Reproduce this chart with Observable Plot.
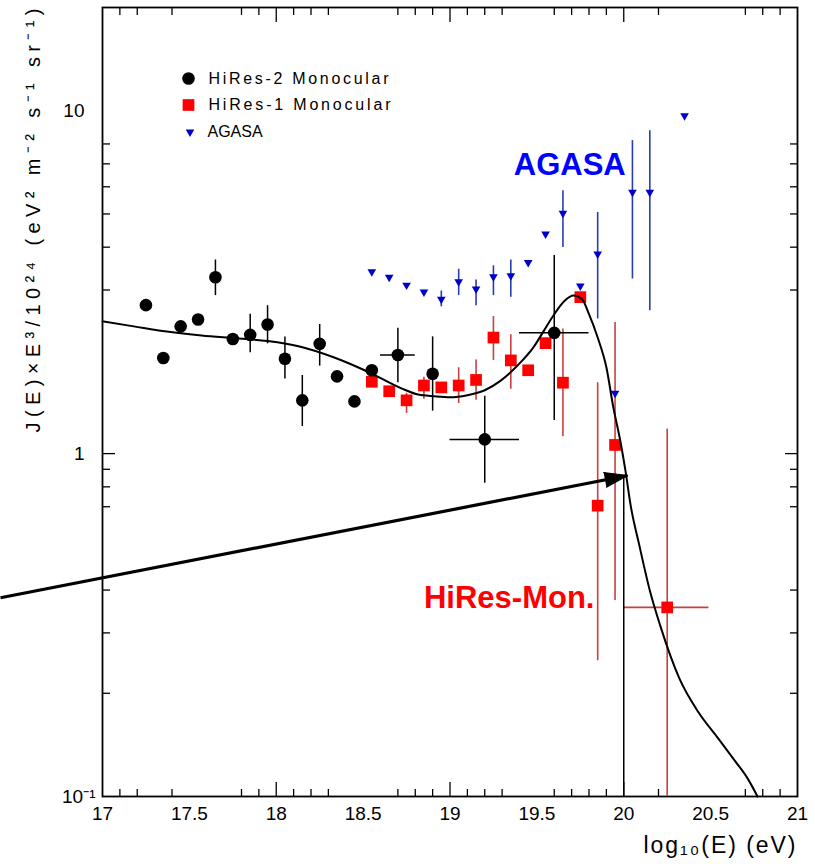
<!DOCTYPE html>
<html><head><meta charset="utf-8">
<script src="https://cdn.jsdelivr.net/npm/d3@7"></script>
<script src="https://cdn.jsdelivr.net/npm/@observablehq/plot@0.6"></script>
<style>body{margin:0;background:#fff} svg{display:block}</style>
</head><body><div id="chart"></div>
<script>
// ---- HiRes-2 Monocular (black circles)
const hires2X  = [17.25,17.35,17.45,17.55,17.65,17.75,17.85,17.95,18.05,18.15,18.25,18.35,18.45,18.55,18.70,18.90,19.20,19.60];
const hires2Y  = [2.71,1.90,2.35,2.46,3.27,2.16,2.22,2.38,1.89,1.43,2.09,1.68,1.42,1.75,1.94,1.71,1.10,2.25];
const hires2Lo = [null,null,null,null,2.89,null,1.97,2.09,1.65,1.20,1.80,null,null,null,1.61,1.33,0.82,1.25];
const hires2Hi = [null,null,null,null,3.67,null,2.55,2.70,2.19,1.69,2.38,null,null,null,2.32,2.19,1.47,3.78];
const hires2XLo = [null,null,null,null,null,null,null,null,null,null,null,null,null,null,18.60,null,19.00,19.40];
const hires2XHi = [null,null,null,null,null,null,null,null,null,null,null,null,null,null,18.80,null,19.40,19.80];

// ---- HiRes-1 Monocular (red squares)
const hires1X  = [18.55,18.65,18.75,18.85,18.95,19.05,19.15,19.25,19.35,19.45,19.55,19.65,19.75,19.85,19.95,20.25];
const hires1Y  = [1.62,1.52,1.43,1.58,1.56,1.58,1.64,2.18,1.87,1.75,2.10,1.61,2.86,0.705,1.06,0.356];
const hires1Lo = [null,null,1.31,1.44,null,1.40,1.43,1.87,1.54,null,null,1.12,null,0.249,0.373,0.1];
const hires1Hi = [null,null,1.50,1.67,null,1.78,1.875,2.51,2.22,null,null,2.31,null,1.61,2.41,1.18];
const hires1XLo = [null,null,null,null,null,null,null,null,null,null,null,null,null,null,null,20.00];
const hires1XHi = [null,null,null,null,null,null,null,null,null,null,null,null,null,null,null,20.49];

// ---- AGASA (blue inverted triangles)
const agasaX  = [18.55,18.65,18.75,18.85,18.95,19.05,19.15,19.25,19.35,19.45,19.55,19.65,19.75,19.85,19.95,20.05,20.15,20.35];
const agasaY  = [3.39,3.27,3.10,2.96,2.82,3.17,3.02,3.28,3.30,3.61,4.37,5.02,3.08,3.82,1.50,5.78,5.78,9.67];
const agasaLo = [null,null,null,null,2.68,2.89,2.70,2.89,2.86,null,null,3.99,null,2.47,null,3.23,2.61,null];
const agasaHi = [null,null,null,null,2.98,3.45,3.21,3.53,3.67,null,null,5.84,null,5.05,null,8.18,8.74,null];

// ---- fit curve
const fitX = [17.00,17.18,17.37,17.57,17.76,17.95,18.14,18.33,18.53,18.72,18.81,18.91,19.00,19.10,19.20,19.29,19.39,19.48,19.54,19.60,19.66,19.71,19.76,19.80,19.85,19.90,19.94,19.98,20.01,20.04,20.09,20.15,20.21,20.32,20.43,20.54,20.64,20.71,20.77];
const fitY = [2.43,2.35,2.27,2.21,2.17,2.13,2.05,1.91,1.73,1.55,1.49,1.47,1.46,1.48,1.53,1.63,1.81,2.04,2.28,2.55,2.79,2.89,2.82,2.55,2.18,1.785,1.365,1.09,0.89,0.705,0.539,0.399,0.315,0.221,0.176,0.1485,0.127,0.1135,0.100];

// ---- annotations
const arrowX = [16.413, 20.022];
const arrowY = [0.380, 0.863];
const cutLineX = [20];
const cutLineTop = [0.863];
const annoText = ["AGASA", "HiRes-Mon."];
const annoX = [19.367, 18.85];
const annoY = [6.94, 0.378];
const annoColor = ["#0000ff", "#ff0000"];

// ---- axes / text
const xLabelTicks = [17,17.5,18,18.5,19,19.5,20,20.5,21];
const xMajorTicks = [18,19,20];
const xMinorTicks = [17.1,17.2,17.4,17.8,17.9,18.1,18.2,18.3,18.7,18.8,18.9,19.1,19.2,19.3,19.6,19.7,19.8,19.9,20.2,20.7,20.8,20.9];
const yMajorTicks = [1];
const yMinorTicks = [0.2,0.3,0.4,0.7,0.8,0.9,3,4,5,6,7,8];
const yLabelTicks = [1,10];
const yLabelTexts = {1:"1", 10:"10"};
const yBottomLabel = "10⁻¹";
const legendLabels = ["HiRes-2 Monocular","HiRes-1 Monocular","AGASA"];
const xTitle = "log₁₀(E) (eV)";
const yTitle = "J(E)×E³/10²⁴ (eV² m⁻² s⁻¹ sr⁻¹)";

const FONT = "'Liberation Sans', Arial, Helvetica, sans-serif";
const W = 815, H = 864, ML = 102, MR = 18, MT = 7, MB = 68;

function rows(xs, ys, lo, hi, xlo, xhi) {
  return xs.map((x, i) => ({x, y: ys[i], lo: lo ? lo[i] : null, hi: hi ? hi[i] : null,
    xlo: xlo ? xlo[i] : null, xhi: xhi ? xhi[i] : null}));
}
const h2 = rows(hires2X, hires2Y, hires2Lo, hires2Hi, hires2XLo, hires2XHi);
const h1 = rows(hires1X, hires1Y, hires1Lo, hires1Hi, hires1XLo, hires1XHi);
const ag = rows(agasaX, agasaY, agasaLo, agasaHi);
const fit = fitX.map((x, i) => ({x, y: fitY[i]}));
const annos = annoText.map((t, i) => ({t, x: annoX[i], y: annoY[i], c: annoColor[i]}));

// arrow direction (screen space) from same scale definition
const sx = d3.scaleLinear([17, 21], [ML, W - MR]);
const sy = d3.scaleLog([0.1, 20], [H - MB, MT]);
const ang = Math.atan2(sx(arrowX[1]) - sx(arrowX[0]), -(sy(arrowY[1]) - sy(arrowY[0]))) * 180 / Math.PI;

const vbar = (data, color, w) => Plot.ruleX(data.filter(d => d.lo != null), {x: "x", y1: "lo", y2: "hi", stroke: color, strokeWidth: w});
const hbar = (data, color, w) => Plot.ruleY(data.filter(d => d.xlo != null), {y: "y", x1: "xlo", x2: "xhi", stroke: color, strokeWidth: w});

const plot = Plot.plot({
  width: W, height: H,
  marginLeft: ML, marginRight: MR, marginTop: MT, marginBottom: MB,
  x: {domain: [17, 21], axis: null},
  y: {type: "log", domain: [0.1, 20], axis: null},
  style: {fontFamily: FONT, background: "#fff", color: "#000"},
  marks: [
    // ticks (inward) on four sides
    Plot.axisX({anchor: "bottom", ticks: xMajorTicks, tickSize: -14, tickFormat: () => "", label: null, strokeWidth: 1.3}),
    Plot.axisX({anchor: "bottom", ticks: xMinorTicks, tickSize: -7, tickFormat: () => "", label: null, strokeWidth: 1.3}),
    Plot.axisX({anchor: "top", ticks: xMajorTicks, tickSize: -14, tickFormat: () => "", label: null, strokeWidth: 1.3}),
    Plot.axisX({anchor: "top", ticks: xMinorTicks, tickSize: -7, tickFormat: () => "", label: null, strokeWidth: 1.3}),
    Plot.axisY({anchor: "left", ticks: yMajorTicks, tickSize: -13, tickFormat: () => "", label: null, strokeWidth: 1.3}),
    Plot.axisY({anchor: "left", ticks: yMinorTicks, tickSize: -8, tickFormat: () => "", label: null, strokeWidth: 1.3}),
    Plot.axisY({anchor: "right", ticks: yMajorTicks, tickSize: -13, tickFormat: () => "", label: null, strokeWidth: 1.3}),
    Plot.axisY({anchor: "right", ticks: yMinorTicks, tickSize: -8, tickFormat: () => "", label: null, strokeWidth: 1.3}),
    // tick labels
    Plot.axisX({anchor: "bottom", ticks: xLabelTicks, tickSize: 0, tickPadding: 10, fontSize: 19, label: null, tickFormat: d => String(d)}),
    Plot.axisY({anchor: "left", ticks: yLabelTicks, tickSize: 0, tickPadding: 18, fontSize: 19, label: null, tickFormat: d => yLabelTexts[d]}),
    Plot.axisY({anchor: "left", ticks: [0.1], tickSize: 0, tickPadding: 7, fontSize: 19, label: null, tickFormat: () => yBottomLabel}),
    Plot.frame({stroke: "#000", strokeWidth: 1.8}),

    // HiRes-1
    vbar(h1, "#c84040", 1.6), hbar(h1, "#c84040", 1.6),
    Plot.dot(h1, {x: "x", y: "y", symbol: "square", r: 6.6, fill: "#ff0000"}),
    // AGASA
    vbar(ag, "#2a3cb0", 1.6),
    Plot.dot(ag, {x: "x", y: "y", symbol: "triangle", r: 3.2, rotate: 180, fill: "#0000cc"}),
    // HiRes-2
    vbar(h2, "#000", 1.5), hbar(h2, "#000", 1.5),
    Plot.dot(h2, {x: "x", y: "y", symbol: "circle", r: 6.3, fill: "#000"}),

    // fit curve
    Plot.line(fit, {x: "x", y: "y", curve: "monotone-x", stroke: "#000", strokeWidth: 2}),

    // E = 10^20 marker line
    Plot.ruleX(cutLineX.map((x, i) => ({x, top: cutLineTop[i]})), {x: "x", y1: 0.1, y2: "top", stroke: "#000", strokeWidth: 1.5}),

    // arrow
    Plot.link([{x1: arrowX[0], y1: arrowY[0], x2: arrowX[1], y2: arrowY[1]}], {x1: "x1", y1: "y1", x2: "x2", y2: "y2", stroke: "#000", strokeWidth: 3.2}),
    Plot.vector([{x: arrowX[1], y: arrowY[1]}], {x: "x", y: "y", length: 23, rotate: ang, shape: "spike", r: 7.5, anchor: "end", fill: "#000", stroke: "#000", strokeWidth: 1}),

    // annotations
    Plot.text(annos, {x: "x", y: "y", text: "t", fill: "c", fontSize: 31, fontWeight: "bold", textAnchor: "start", lineAnchor: "middle", fontFamily: "Arial, 'Liberation Sans', sans-serif"}),

    // legend
    Plot.dot([legendLabels[0]], {frameAnchor: "top-left", dx: 86, dy: 71, symbol: "circle", r: 6.3, fill: "#000"}),
    Plot.dot([legendLabels[1]], {frameAnchor: "top-left", dx: 86, dy: 97.5, symbol: "square", r: 6.6, fill: "#ff0000"}),
    Plot.dot([legendLabels[2]], {frameAnchor: "top-left", dx: 87.5, dy: 124.5, symbol: "triangle", r: 3.2, rotate: 180, fill: "#0000cc"}),
    Plot.text([legendLabels[0]], {frameAnchor: "top-left", dx: 106, dy: 71, text: d => d, fontSize: 16, textAnchor: "start", lineAnchor: "middle"}),
    Plot.text([legendLabels[1]], {frameAnchor: "top-left", dx: 106, dy: 97.5, text: d => d, fontSize: 16, textAnchor: "start", lineAnchor: "middle"}),
    Plot.text([legendLabels[2]], {frameAnchor: "top-left", dx: 105, dy: 124.5, text: d => d, fontSize: 16, textAnchor: "start", lineAnchor: "middle"}),

    // axis titles
    Plot.text([xTitle], {frameAnchor: "bottom-right", dx: -2, dy: 49, text: d => d, fontSize: 23, textAnchor: "end", lineAnchor: "middle"}),
    Plot.text([yTitle], {frameAnchor: "top-left", dx: 33 - ML, dy: 1, text: d => d, fontSize: 20, rotate: -90, textAnchor: "end", lineAnchor: "middle"})
  ]
});

// stretch some texts to the widths seen in the reference
const stretch = {"HiRes-2 Monocular": 180, "HiRes-1 Monocular": 182, [xTitle]: 152, [yTitle]: 424};
d3.select(plot).selectAll("text").each(function() {
  const t = this.textContent;
  if (stretch[t]) { this.setAttribute("textLength", stretch[t]); this.setAttribute("lengthAdjust", "spacing"); }
});
document.getElementById("chart").appendChild(plot);
</script>
</body></html>
